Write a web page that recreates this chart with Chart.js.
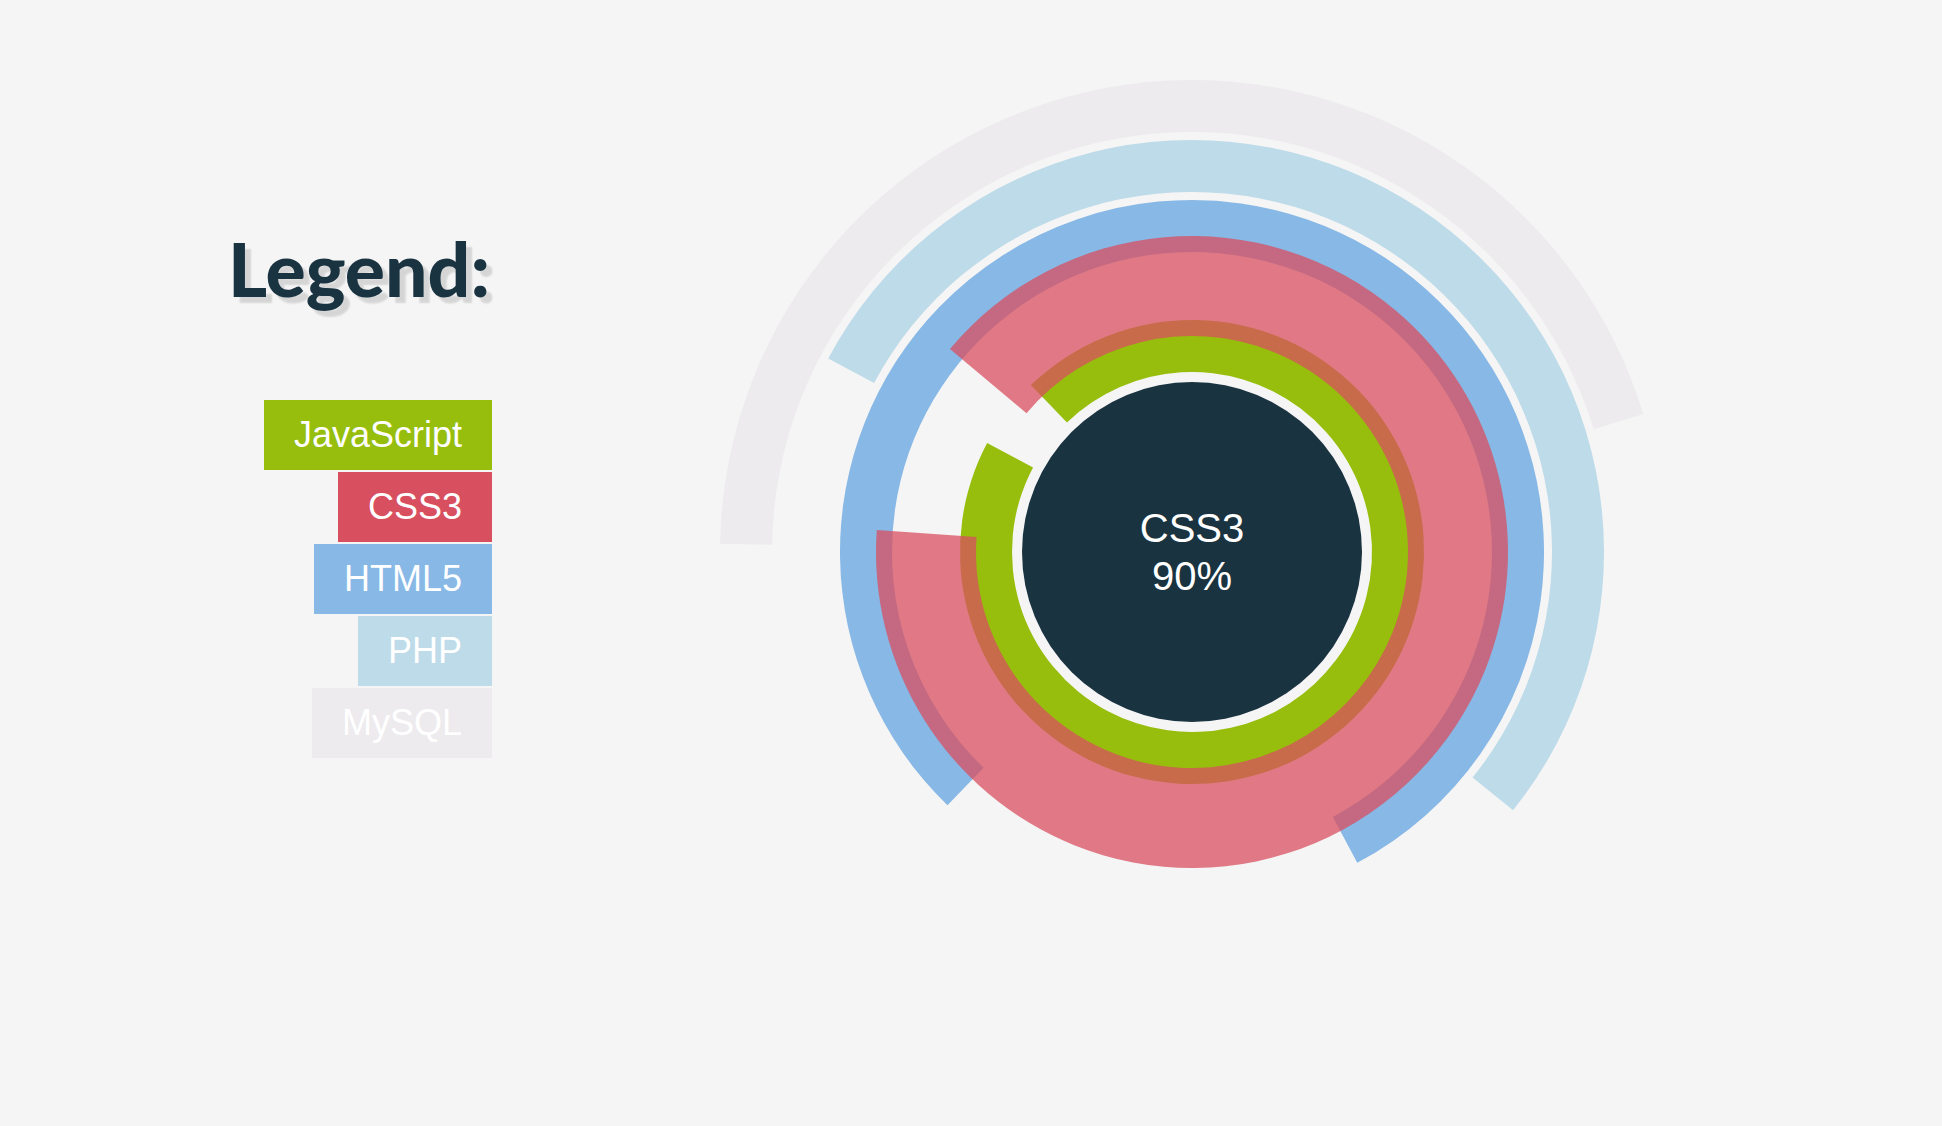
<!DOCTYPE html>
<html>
<head>
<meta charset="utf-8">
<script src="https://cdn.jsdelivr.net/npm/chart.js@4.4.1/dist/chart.umd.min.js"></script>
<style>
  html, body { margin:0; padding:0; background:#f5f5f5; width:1942px; height:1126px; overflow:hidden; }
  #title { position:absolute; left:90px; top:232px; width:400px; text-align:right;
           font:900 75px Lato, "DejaVu Sans", sans-serif; line-height:72px; color:#193340;
           text-shadow: 6px 6px 2px rgba(0,0,0,0.13); }
  #legend { position:absolute; left:0; top:400px; width:492px; display:flex; flex-direction:column;
            align-items:flex-end; gap:2px; }
  .item { height:70px; padding:0 30px; color:#fff;
          font:36px "Liberation Sans", Arial, sans-serif; line-height:70px; white-space:nowrap; }
  #wrap { position:absolute; left:720px; top:80px; width:944px; height:944px; }
  #wrap canvas { position:absolute; left:0; top:0; }
  #center { position:absolute; left:302px; top:302px; width:340px; height:340px; border-radius:50%;
            background:#193340; color:#fff; font:40px "Liberation Sans", Arial, sans-serif; line-height:48px;
            display:flex; flex-direction:column; align-items:center; justify-content:center; text-align:center; }
</style>
</head>
<body>
<div id="title">Legend:</div>
<div id="legend"></div>
<div id="wrap">
  <canvas id="rings" width="944" height="944"></canvas>
  <div id="center"><div id="cName"></div><div id="cValue"></div></div>
  <canvas id="active" width="944" height="944"></canvas>
</div>
<script>
// ---- data ----
const categories = ['JavaScript', 'CSS3', 'HTML5', 'PHP', 'MySQL'];
const percents   = [95, 90, 80, 53, 45];
const startAngles = [134, 140, 226, 152, 179];   // where each arc begins (degrees, counter-clockwise from east); arcs sweep clockwise
const colors     = ['#97BE0D', '#D84F5F', '#88B8E6', '#BEDBE9', '#EDEBEE'];
const activeIndex = 1;   // hovered skill (CSS3)

// ---- geometry ----
const INNER = 180, RING = 52, GAP = 8, HOVER_WIDTH = 100, HOVER_ALPHA = 0.75;
const CLEAR = 'rgba(0,0,0,0)';

function hexToRgba(hex, a) {
  const n = parseInt(hex.slice(1), 16);
  return `rgba(${(n >> 16) & 255},${(n >> 8) & 255},${n & 255},${a})`;
}

// legend
const legend = document.getElementById('legend');
categories.forEach((c, i) => {
  const d = document.createElement('div');
  d.className = 'item';
  d.style.background = colors[i];
  d.textContent = c;
  legend.appendChild(d);
});
document.getElementById('cName').textContent = categories[activeIndex];
document.getElementById('cValue').textContent = percents[activeIndex] + '%';

const baseOptions = {
  responsive: false,
  animation: false,
  events: [],
  layout: { padding: 0 },
  plugins: { legend: { display: false }, tooltip: { enabled: false } }
};

// main rings (outermost dataset first)
const datasetsA = [];
for (let i = categories.length - 1; i >= 0; i--) {
  datasetsA.push({
    label: categories[i],
    data: [percents[i], 100 - percents[i]],
    backgroundColor: [i === activeIndex ? CLEAR : colors[i], CLEAR],
    rotation: 90 - startAngles[i],
    weight: RING,
    borderWidth: 0
  });
  if (i > 0) datasetsA.push({ label: '', data: [1], backgroundColor: [CLEAR], weight: GAP, borderWidth: 0 });
}
const outerA = INNER + categories.length * RING + (categories.length - 1) * GAP;
new Chart(document.getElementById('rings'), {
  type: 'doughnut',
  data: { labels: ['value', 'rest'], datasets: datasetsA },
  options: Object.assign({}, baseOptions, { radius: outerA, cutout: (INNER / outerA * 100) + '%' })
});

// hovered (enlarged, translucent) ring on top
const mid = INNER + activeIndex * (RING + GAP) + RING / 2;
const outerB = mid + HOVER_WIDTH / 2, innerB = mid - HOVER_WIDTH / 2;
new Chart(document.getElementById('active'), {
  type: 'doughnut',
  data: { labels: ['value', 'rest'], datasets: [{
    label: categories[activeIndex],
    data: [percents[activeIndex], 100 - percents[activeIndex]],
    backgroundColor: [hexToRgba(colors[activeIndex], HOVER_ALPHA), CLEAR],
    rotation: 90 - startAngles[activeIndex],
    borderWidth: 0
  }] },
  options: Object.assign({}, baseOptions, { radius: outerB, cutout: (innerB / outerB * 100) + '%' })
});
</script>
</body>
</html>
